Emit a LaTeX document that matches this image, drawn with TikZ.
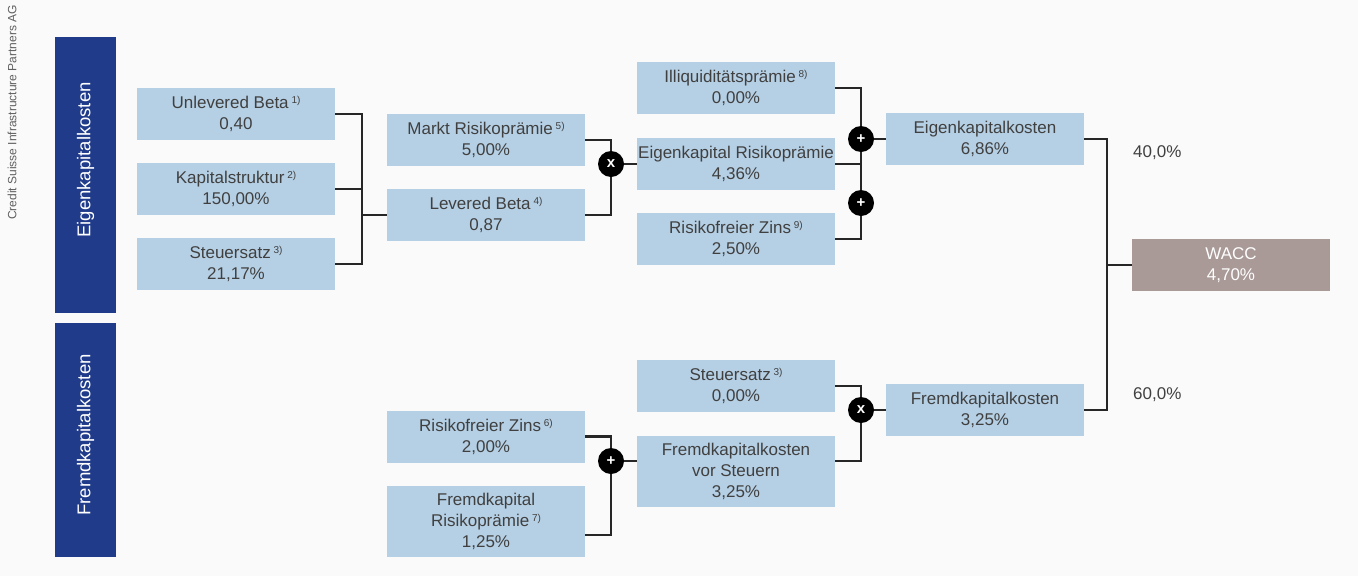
\documentclass[tikz,border=0pt]{standalone}
\usepackage{fontspec}
\setmainfont{Liberation Sans}
\definecolor{bgc}{HTML}{FAFAFA}
\definecolor{lblue}{HTML}{B5CFE4}
\definecolor{dblue}{HTML}{203B8A}
\definecolor{wacc}{HTML}{A99997}
\definecolor{txt}{HTML}{404040}
\definecolor{srcgray}{HTML}{606060}
\newcommand\fnote[1]{\,{\fontsize{10}{10}\selectfont\raisebox{5pt}{#1}}}
\tikzset{
  box/.style={fill=lblue, text=txt, minimum width=198pt, minimum height=52pt,
    inner sep=0pt, align=center, font=\fontsize{17}{21}\selectfont},
  tallbox/.style={box, minimum height=71pt},
  sidebox/.style={fill=dblue, text=white, minimum width=61pt, inner sep=0pt},
  sidetext/.style={rotate=90, text=white, font=\fontsize{18.5}{22}\selectfont},
  opnode/.style={circle, fill=black, minimum size=26pt, inner sep=0pt, text=white,
    font=\bfseries\fontsize{15}{15}\selectfont},
  conn/.style={line width=2.8pt, draw=black!85},
  pct/.style={anchor=west, text=txt, font=\fontsize{17}{21}\selectfont, inner sep=0pt}
}
\begin{document}
\begin{tikzpicture}[x=1pt,y=-1pt]
\fill[bgc] (0,0) rectangle (1358,576);
\useasboundingbox (0,0) rectangle (1358,576);

% source
\node[rotate=90, anchor=east, text=srcgray, inner sep=0pt,
  font=\fontsize{12}{14}\selectfont] (src) at (12,5) {Credit Suisse Infrastructure Partners AG};

% side boxes
\node[sidebox, minimum height=276pt] (ek) at (85.5,175) {};
\node[sidetext] (ektxt) at ([yshift=15pt]ek.center) {Eigenkapitalkosten};
\node[sidebox, minimum height=234pt] (fk) at (85.5,440) {};
\node[sidetext] (fktxt) at ([yshift=5pt]fk.center) {Fremdkapitalkosten};

% column 1
\node[box] (ub) at (236,114) {Unlevered Beta\fnote{1)}\\0,40};
\node[box] (ks) at (236,189) {Kapitalstruktur\fnote{2)}\\150,00\%};
\node[box] (st1) at (236,264) {Steuersatz\fnote{3)}\\21,17\%};

% column 2
\node[box] (mr) at (486,140) {Markt Risikoprämie\fnote{5)}\\5,00\%};
\node[box] (lb) at (486,215) {Levered Beta\fnote{4)}\\0,87};
\node[box] (rz6) at (486,436.5) {Risikofreier Zins\fnote{6)}\\2,00\%};
\node[tallbox] (fkr) at (486,521.5) {Fremdkapital\\Risikoprämie\fnote{7)}\\1,25\%};

% column 3
\node[box] (il) at (736,88) {Illiquiditätsprämie\fnote{8)}\\0,00\%};
\node[box] (er) at (736,164) {Eigenkapital Risikoprämie\\4,36\%};
\node[box] (rz9) at (736,239) {Risikofreier Zins\fnote{9)}\\2,50\%};
\node[box] (st2) at (736,386) {Steuersatz\fnote{3)}\\0,00\%};
\node[tallbox] (fkvs) at (736,471.5) {Fremdkapitalkosten\\vor Steuern\\3,25\%};

% column 4
\node[box] (ekk) at (985,139) {Eigenkapitalkosten\\6,86\%};
\node[box] (fkk) at (985,410) {Fremdkapitalkosten\\3,25\%};

% WACC
\node[box, fill=wacc, text=white] (w) at (1231,265) {WACC\\4,70\%};

% percentages
\node[pct] (p40) at (1133,153) {40,0\%};
\node[pct] (p60) at (1133,395) {60,0\%};

% junction coordinates
\coordinate (j1) at (362,215);
\coordinate (m1) at (611,164);
\coordinate (a1) at (861,139);
\coordinate (a2) at (861,203);
\coordinate (m2) at (861,410);
\coordinate (a3) at (611,461);
\coordinate (jw) at (1107,265);

% connectors column 1 -> levered beta
\draw[conn] (ub.east) -| (j1) |- (st1.east);
\draw[conn] (ks.east) -- (ks.east -| j1);
\draw[conn] (j1) -- (lb.west);

% x : markt * levered
\draw[conn] (mr.east) -| (m1) |- (lb.east);
\draw[conn] (m1) -- (er.west);

% + : illiq + er + rz9
\draw[conn] (il.east) -| (a1) -- (a2) |- (rz9.east);
\draw[conn] (er.east) -- (er.east -| a1);
\draw[conn] (a1) -- (ekk.west);

% + : rz6 + fkr
\draw[conn] (rz6.east) -| (a3);
\draw[conn] (a3) |- ([yshift=-13.5pt]fkr.east);
\draw[conn] (a3) -- (a3 -| fkvs.west);

% x : st2 * fkvs
\draw[conn] (st2.east) -| (m2);
\draw[conn] (m2) |- (fkvs.east |- a3);
\draw[conn] (m2) -- (fkk.west);

% WACC
\draw[conn] (ekk.east) -| (jw) |- (fkk.east);
\draw[conn] (jw) -- (w.west);

% operators
\node[opnode] (o1) at (m1) {x};
\node[opnode] (o2) at (a1) {+};
\node[opnode] (o3) at (a2) {+};
\node[opnode] (o4) at (a3) {+};
\node[opnode] (o5) at (m2) {x};
\end{tikzpicture}
\end{document}
